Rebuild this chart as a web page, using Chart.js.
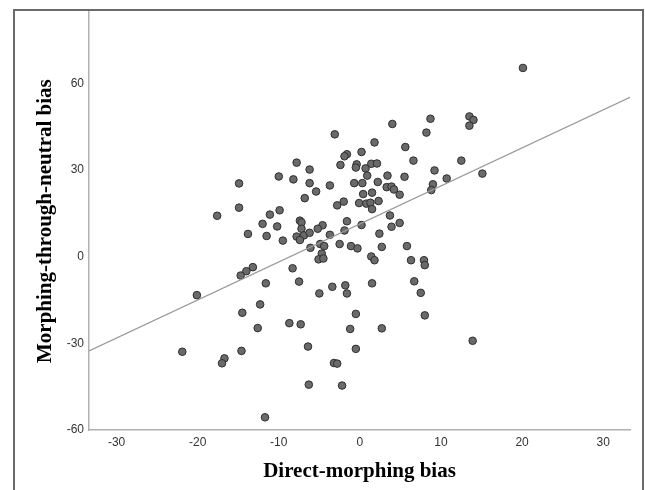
<!DOCTYPE html>
<html>
<head>
<meta charset="utf-8">
<script src="https://cdn.jsdelivr.net/npm/chart.js@4"></script>
<style>
  html, body { margin: 0; padding: 0; background: #fff; }
  #wrap { position: relative; width: 645px; height: 490px; }
  #frame {
    position: absolute; left: 13px; top: 9px; width: 631px; height: 490px;
    border-left: 2px solid #6a6a6a; border-top: 2px solid #6a6a6a; border-right: 2px solid #6a6a6a;
    box-sizing: border-box; pointer-events: none;
  }
  canvas { position: absolute; left: 0; top: 0; }
</style>
</head>
<body>
<div id="wrap">
  <canvas id="chart" width="645" height="490"></canvas>
  <div id="frame"></div>
</div>
<script>
// valores
const directBias = [
  20.1, 8.7, 13.5, 14.0, 13.5, 4.0, -3.1, 8.2, 1.8, 5.6,
  0.2, -1.6, -1.9, -7.8, -2.4, -0.4, -0.5, 1.4, 2.1, 0.7,
  6.6, 12.5, -6.2, 9.2, -10.0, -8.2, 0.9, 3.4, 5.5, 10.7,
  15.1, -14.9, -6.2, -3.7, -0.7, 0.3, 2.2, 9.0, 3.3, 3.9,
  4.2, 8.8, -5.4, 0.4, 1.5, 4.9, -6.8, -2.0, -0.1, 0.8,
  1.3, 2.3, -2.8, -14.9, 1.5, -17.6, -11.1, -9.9, 3.7, -7.4,
  -7.2, -1.6, -12.0, 4.9, 0.2, -10.2, -4.6, -7.2, -5.2, -1.9,
  3.9, -13.8, -11.5, -7.8, -6.9, -6.2, -3.7, 2.4, -9.5, -7.4,
  -4.9, -4.4, -2.5, -1.1, -0.3, -6.1, 2.7, 5.8, -4.7, -5.1,
  -4.5, 1.4, 1.8, 6.3, 7.9, 8.0, -13.2, -14.0, -14.7, -8.3,
  -11.6, -7.5, -3.4, -1.8, 1.5, 6.7, -20.1, -5.0, -1.6, 7.5,
  -12.3, -14.5, -0.5, 8.0, -8.7, -7.3, -12.6, -1.2, 2.7, 13.9,
  -6.4, -0.5, -21.9, -14.6, -16.7, -17.0, -3.2, -2.8, -6.3, -2.2,
  -11.7
];
const neutralBias = [
  65.4, 47.8, 48.6, 47.4, 45.4, 46.0, 42.4, 43.0, 39.6, 38.0,
  36.3, 35.5, 34.8, 32.6, 31.8, 32.0, 30.9, 32.2, 32.3, 30.6,
  33.3, 33.3, 30.2, 29.9, 27.8, 26.8, 28.1, 28.1, 27.7, 27.1,
  28.8, 25.4, 25.5, 24.7, 25.5, 25.5, 25.9, 25.1, 24.1, 24.3,
  23.3, 23.1, 22.6, 21.7, 22.2, 21.5, 20.3, 19.1, 18.6, 18.4,
  18.7, 19.3, 17.8, 17.0, 16.5, 14.2, 14.6, 16.1, 14.3, 12.5,
  11.9, 12.3, 11.4, 11.7, 11.0, 10.5, 10.9, 9.7, 9.7, 9.1,
  10.4, 7.9, 7.2, 7.0, 7.4, 8.3, 7.6, 8.0, 5.6, 5.8,
  4.4, 3.7, 4.4, 3.7, 2.9, 3.1, 3.4, 3.7, 1.1, -0.9,
  -0.6, 0.1, -1.2, -1.2, -1.2, -2.9, -3.6, -5.0, -6.5, -4.0,
  -9.2, -8.6, -10.4, -9.9, -9.2, -8.5, -13.3, -12.7, -12.7, -12.5,
  -16.5, -19.4, -19.8, -20.3, -23.0, -23.4, -24.7, -25.0, -24.8, -29.1,
  -31.1, -31.9, -32.9, -32.6, -35.2, -36.9, -36.8, -37.0, -44.3, -44.6,
  -55.6
];
// recta de ajuste (extremos)
const fitX = [-33.4, 33.3];
const fitY = [-32.6, 55.2];

const xTicks = [-30, -20, -10, 0, 10, 20, 30];
const yTicks = [-60, -30, 0, 30, 60];

const points = directBias.map((x, i) => ({x: x, y: neutralBias[i]}));
const fitLine = fitX.map((x, i) => ({x: x, y: fitY[i]}));

const tickFont = {family: '"Liberation Sans", Arial, sans-serif', size: 12};
const titleFont = {family: '"Liberation Serif", "Times New Roman", serif', size: 21, weight: 'bold'};

new Chart(document.getElementById('chart'), {
    type: 'scatter',
    data: {
        datasets: [
            {
                data: fitLine,
                type: 'line',
                borderColor: '#9a9a9a',
                borderWidth: 1.3,
                pointRadius: 0,
                fill: false
            },
            {
                data: points,
                backgroundColor: '#6a6a6a',
                borderColor: '#2e2e2e',
                borderWidth: 1,
                pointRadius: 3.8
            }
        ]
    },
    options: {
        responsive: false,
        animation: false,
        layout: {padding: {left: 0, top: 12, right: 15, bottom: 0}},
        plugins: {legend: {display: false}, tooltip: {enabled: false}},
        scales: {
            x: {
                type: 'linear',
                min: -33.4,
                max: 33.3,
                afterBuildTicks: s => { s.ticks = xTicks.map(v => ({value: v})); },
                afterFit: s => { s.height = 60; },
                grid: {display: false, drawTicks: false},
                border: {display: true, color: '#b0b0b0', width: 1.5},
                ticks: {font: tickFont, color: '#333', padding: 5},
                title: {display: true, text: 'Direct-morphing bias', font: titleFont, color: '#000', padding: {top: 4, bottom: 6}}
            },
            y: {
                type: 'linear',
                min: -60,
                max: 84.7,
                afterBuildTicks: s => { s.ticks = yTicks.map(v => ({value: v})); },
                afterFit: s => { s.width = 89; },
                grid: {display: false, drawTicks: false},
                border: {display: true, color: '#b0b0b0', width: 1.5},
                ticks: {font: tickFont, color: '#333', padding: 5},
                title: {display: true, text: 'Morphing-through-neutral bias', font: titleFont, color: '#000', padding: {top: 33, bottom: 4}}
            }
        }
    }
});
</script>
</body>
</html>
